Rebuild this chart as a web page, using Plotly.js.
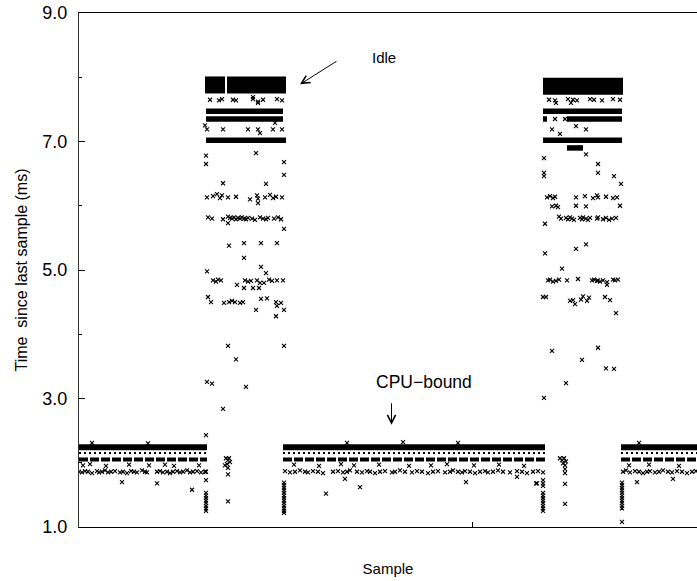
<!DOCTYPE html>
<html><head><meta charset="utf-8">
<script src="https://cdn.plot.ly/plotly-3.0.1.min.js"></script>
<style>html,body{margin:0;padding:0;background:#fff}</style>
</head><body><div id="chart" style="width:697px;height:581px"></div>
<script>
// ---- dense runs (sample index start/end, time in ms) ----
const cpuRunStart = [0, 204, 542];
const cpuRunEnd   = [128, 466, 620];
const cpuMainLevel = 2.24;
const cpuDotLevel = 2.15;
const cpuBandLevel = 2.05;
const idleTopStart = [126, 148, 464];
const idleTopEnd   = [146, 207, 544];
const idleTopLevel = [7.88, 7.88, 7.86];
const idleRowStart = [127, 127, 127, 464, 464, 488, 464, 488];
const idleRowEnd   = [204, 204, 207, 543, 468, 543, 543, 504];
const idleRowLevel = [7.47, 7.35, 7.02, 7.47, 7.35, 7.35, 7.02, 6.90];

// ---- individual samples: idle period 1 ----
const idle1X = [131,140,143,154,157,174,179,184,198,203,174,179,
  196,126,128,144,169,179,194,203,181,
  177,127,205,127,205,144,187,
  128,134,138,141,143,149,157,171,178,179,186,191,194,197,203,179,
  129,133,144,149,151,153,155,157,159,161,163,165,167,169,173,176,181,184,187,189,195,199,202,
  149,205,165,182,198,150,165,182,128,187,
  134,137,139,142,166,169,172,178,190,193,198,204,
  181,185,158,165,174,180,129,188,182,
  132,145,150,153,156,161,164,197,202,
  198,177,205,197,149,205,157,128,133,167,144,127];
const idle1Y = [7.65,7.64,7.66,7.65,7.64,7.66,7.62,7.65,7.66,7.64,7.69,7.60,
  7.29,7.25,7.19,7.19,7.19,7.19,7.19,7.19,7.13,
  6.82,6.78,6.68,6.65,6.48,6.35,6.34,
  6.13,6.15,6.18,6.12,6.16,6.13,6.14,6.10,6.16,6.11,6.13,6.17,6.12,6.14,6.13,6.04,
  5.82,5.80,5.79,5.83,5.81,5.80,5.82,5.79,5.81,5.80,5.82,5.80,5.79,5.81,5.80,5.78,5.82,5.80,5.79,5.81,5.80,5.82,5.79,
  5.73,5.64,5.42,5.42,5.42,5.38,5.19,5.05,4.98,4.95,
  4.84,4.82,4.85,4.84,4.84,4.82,4.83,4.84,4.85,4.83,4.84,4.84,
  4.80,4.80,4.77,4.72,4.72,4.72,4.58,4.56,4.55,
  4.50,4.49,4.50,4.52,4.50,4.49,4.50,4.50,4.49,
  4.44,4.38,4.38,4.28,3.82,3.82,3.61,3.26,3.23,3.18,2.84,2.43];

// ---- individual samples: idle period 2 ----
const idle2X = [470,476,489,494,498,511,515,523,534,541,477,492,
  497,473,507,481,476,486,
  507,465,519,465,519,465,535,542,
  468,471,474,476,497,506,514,518,519,527,534,538,
  473,477,479,497,507,541,
  480,482,487,489,491,493,495,501,503,504,507,509,511,518,519,524,527,530,533,537,
  466,507,497,466,483,
  469,471,474,477,480,488,499,513,515,518,519,521,524,528,534,536,539,
  528,464,467,504,510,526,491,494,502,508,531,
  496,537,519,473,503,527,535,487,465];
const idle2Y = [7.65,7.64,7.66,7.65,7.64,7.66,7.65,7.64,7.66,7.65,7.60,7.60,
  7.24,7.19,7.19,7.12,7.35,7.35,
  6.80,6.74,6.65,6.51,6.51,6.46,6.46,6.34,
  6.13,6.15,6.12,6.14,6.13,6.15,6.12,6.16,6.13,6.14,6.12,6.13,
  5.99,6.00,5.98,6.00,5.99,6.00,
  5.83,5.80,5.81,5.79,5.82,5.80,5.78,5.81,5.79,5.82,5.80,5.78,5.81,5.80,5.82,5.79,5.81,5.78,5.80,5.81,
  5.72,5.40,5.33,5.26,5.02,
  4.84,4.85,4.82,4.83,4.85,4.84,4.86,4.84,4.85,4.83,4.84,4.82,4.84,4.81,4.85,4.84,4.85,
  4.77,4.58,4.58,4.59,4.57,4.58,4.52,4.53,4.54,4.52,4.53,
  4.47,4.33,3.79,3.74,3.60,3.47,3.46,3.24,3.01];

// ---- transitions between phases ----
const transX = [127,127,127,127,127,127,127,127,127,127,
  147,149,150,151,148,146,149,149,149,
  205,205,205,205,205,205,205,205,205,205,205,205,205,
  464,464,464,464,464,464,464,464,464,464,464,
  481,483,485,487,484,486,486,486,486,486,458,
  543,543,543,543,543,543,543,543,543,543,543,543,558,594];
const transY = [1.86,1.73,1.53,1.49,1.45,1.41,1.37,1.33,1.29,1.25,
  2.07,2.04,2.07,2.01,1.98,1.96,1.92,1.82,1.40,
  1.69,1.65,1.61,1.57,1.53,1.49,1.45,1.41,1.37,1.33,1.29,1.25,1.22,
  1.73,1.68,1.64,1.53,1.49,1.45,1.41,1.37,1.33,1.29,1.25,
  2.07,2.04,2.07,2.02,1.99,1.96,1.90,1.84,1.67,1.36,1.68,
  1.69,1.65,1.61,1.57,1.53,1.49,1.45,1.41,1.37,1.33,1.29,1.08,1.70,1.75];

// ---- CPU-bound scattered samples ----
const cpuX = [0,3,6,9,13,18,20,23,26,29,32,36,41,44,48,52,55,58,63,66,68,78,81,84,88,91,94,98,101,104,108,111,114,118,122,126,
  206,211,216,221,226,229,234,239,244,254,259,264,268,271,278,283,288,291,296,301,306,313,316,321,326,333,338,343,349,354,359,366,371,374,379,383,386,391,396,401,406,409,414,419,424,431,438,443,448,454,459,464,
  544,547,551,556,560,564,568,571,576,580,584,589,593,598,603,608,613,617,
  4,11,27,50,70,86,95,120,215,240,262,275,300,330,352,368,395,420,445,550,570,600,
  43,78,113,247,266,281,387,438,457,
  13,69,268,324,379,560];
const cpuY = [1.86,1.85,1.87,1.86,1.84,1.87,1.85,1.86,1.88,1.85,1.86,1.87,1.85,1.86,1.84,1.87,1.86,1.85,1.88,1.86,1.85,1.86,1.87,1.85,1.86,1.84,1.86,1.87,1.85,1.86,1.88,1.85,1.86,1.87,1.85,1.86,
  1.87,1.85,1.86,1.88,1.86,1.85,1.87,1.86,1.84,1.86,1.87,1.85,1.86,1.88,1.86,1.85,1.87,1.86,1.84,1.86,1.87,1.85,1.86,1.88,1.86,1.85,1.87,1.86,1.84,1.86,1.87,1.85,1.86,1.88,1.86,1.85,1.87,1.86,1.84,1.86,1.87,1.85,1.86,1.88,1.86,1.85,1.87,1.86,1.84,1.86,1.87,1.85,
  1.86,1.88,1.85,1.87,1.86,1.84,1.86,1.87,1.85,1.86,1.88,1.86,1.85,1.87,1.86,1.84,1.86,1.87,
  1.96,1.98,1.95,1.97,1.96,1.97,1.95,1.96,1.97,1.95,1.98,1.96,1.97,1.95,1.96,1.98,1.96,1.97,1.95,1.96,1.97,1.95,
  1.70,1.68,1.58,1.52,1.75,1.62,1.70,1.78,1.68,
  2.31,2.30,2.31,2.32,2.31,2.31];

const yTickVals = [1, 3, 5, 7, 9];
const yTickText = ['1.0', '3.0', '5.0', '7.0', '9.0'];
const yMinorVals = [2, 4, 6, 8];
const xTickVals = [393];

function runs(starts, ends, levels) {
  const x = [], y = [];
  for (let i = 0; i < starts.length; i++) {
    const lv = Array.isArray(levels) ? levels[i] : levels;
    x.push(starts[i], ends[i], null);
    y.push(lv, lv, null);
  }
  return {x, y};
}

const mk = {symbol: 'x-thin', size: 4, color: '#000', line: {width: 1.1, color: '#000'}};
const traces = [];
const addRun = (r, w, dash) => traces.push({type: 'scatter', mode: 'lines', x: r.x, y: r.y,
  line: {color: '#000', width: w, dash: dash || 'solid'}, hoverinfo: 'skip', showlegend: false});
addRun(runs(cpuRunStart, cpuRunEnd, cpuMainLevel), 6);
addRun(runs(cpuRunStart, cpuRunEnd, cpuDotLevel), 2, '2px,3px');
addRun(runs(cpuRunStart, cpuRunEnd, cpuBandLevel), 4, '9px,2px');
addRun(runs(idleTopStart, idleTopEnd, idleTopLevel), 17);
addRun(runs(idleRowStart, idleRowEnd, idleRowLevel), 5.5);
[[idle1X, idle1Y], [idle2X, idle2Y], [transX, transY], [cpuX, cpuY]].forEach(([x, y]) =>
  traces.push({type: 'scatter', mode: 'markers', x, y, marker: mk, hoverinfo: 'skip', showlegend: false, cliponaxis: true}));

const font = {family: '"Liberation Sans", Arial, Helvetica, sans-serif', color: '#000'};
const layout = {
  width: 697, height: 581,
  margin: {l: 79, r: 0, t: 13, b: 54},
  paper_bgcolor: '#fff', plot_bgcolor: '#fff',
  font: Object.assign({size: 15}, font),
  showlegend: false,
  xaxis: {
    range: [0, 618], showgrid: false, zeroline: false, showline: true, mirror: true,
    linecolor: '#000', linewidth: 1, ticks: 'inside', ticklen: 5, tickcolor: '#000',
    tickvals: xTickVals, showticklabels: false, fixedrange: true,
    title: {text: 'Sample', font: Object.assign({size: 15}, font), standoff: 36}
  },
  yaxis: {
    range: [1, 9], showgrid: false, zeroline: false, showline: true,
    linecolor: '#333', linewidth: 1, ticks: 'inside', ticklen: 6, tickcolor: '#000',
    tickvals: yTickVals, ticktext: yTickText, tickfont: Object.assign({size: 18}, font),
    ticklabelstandoff: 7,
    minor: {tickvals: yMinorVals, ticks: 'inside', ticklen: 3, tickcolor: '#000'},
    fixedrange: true,
    title: {text: 'Time  since last sample (ms)', font: Object.assign({size: 16}, font), standoff: 10}
  },
  annotations: [
    {x: 305, y: 8.315, xref: 'x', yref: 'y', text: 'Idle', showarrow: false, font: Object.assign({size: 15}, font)},
    {x: 221, y: 7.89, xref: 'x', yref: 'y', text: '', showarrow: true, arrowhead: 5, arrowsize: 1.6,
     arrowwidth: 1, arrowcolor: '#000', ax: 38, ay: -24, standoff: 0},
    {x: 345, y: 3.25, xref: 'x', yref: 'y', text: 'CPU\u2212bound', showarrow: false, font: Object.assign({size: 17.5}, font)},
    {x: 312.5, y: 2.59, xref: 'x', yref: 'y', text: '', showarrow: true, arrowhead: 5, arrowsize: 1.6,
     arrowwidth: 1, arrowcolor: '#000', ax: 0, ay: -23, standoff: 0}
  ]
};
Plotly.newPlot('chart', traces, layout, {staticPlot: true, displayModeBar: false});
</script></body></html>
